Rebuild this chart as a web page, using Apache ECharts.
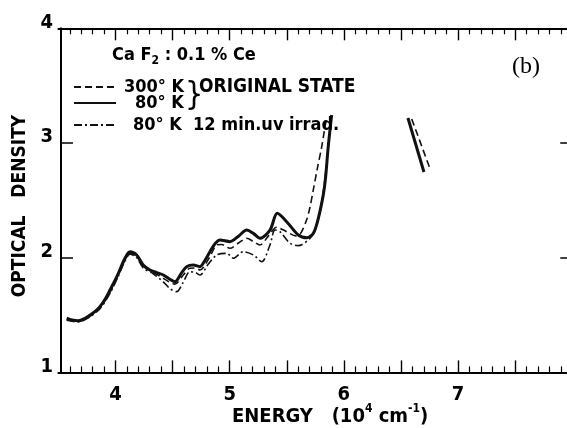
<!DOCTYPE html>
<html><head><meta charset="utf-8">
<script src="https://cdn.jsdelivr.net/npm/echarts@6/dist/echarts.min.js"></script>
<style>html,body{margin:0;padding:0;background:#fff}#c{width:567px;height:428px}</style>
</head><body><div id="c"></div>
<script>
const FONT = "'Liberation Sans Narrow','DejaVu Sans Condensed','Liberation Sans',sans-serif";

// tick labels and tick positions
const xTickLabels = [4, 5, 6, 7, 8];
const xMajorTicks = [4, 4.5, 5, 5.5, 6, 6.5, 7, 7.5, 8];
const yTickLabels = [1, 2, 3, 4];

// 80 K original state (solid)
const energy80 = [3.573,3.62,3.674,3.73,3.777,3.82,3.864,3.91,3.952,3.99,4.025,4.083,4.127,4.186,4.243,4.302,4.36,4.419,4.48,4.52,4.58,4.623,4.681,4.74,4.78,4.827,4.87,4.915,5.002,5.08,5.149,5.21,5.265,5.353,5.417,5.499,5.601,5.675,5.733,5.776,5.82,5.84,5.863,5.893];
const od80     = [1.474,1.458,1.451,1.47,1.5,1.53,1.573,1.64,1.718,1.79,1.864,1.995,2.052,2.024,1.936,1.893,1.87,1.849,1.81,1.791,1.87,1.922,1.936,1.922,1.97,2.052,2.12,2.155,2.14,2.19,2.241,2.21,2.169,2.241,2.387,2.314,2.198,2.174,2.213,2.343,2.55,2.70,2.968,3.244];
// 300 K original state (dashed)
const energy300 = [3.573,3.674,3.777,3.864,3.952,4.025,4.083,4.127,4.186,4.243,4.331,4.419,4.477,4.52,4.594,4.652,4.70,4.74,4.827,4.886,4.93,5.002,5.08,5.149,5.21,5.265,5.34,5.412,5.499,5.58,5.62,5.674,5.703,5.732,5.77,5.806,5.849];
const od300     = [1.46,1.445,1.49,1.56,1.70,1.85,1.98,2.04,2.01,1.925,1.875,1.82,1.785,1.77,1.849,1.908,1.91,1.893,2.009,2.111,2.115,2.082,2.13,2.169,2.14,2.111,2.19,2.265,2.227,2.19,2.21,2.33,2.44,2.59,2.79,2.968,3.23];
// 80 K after 12 min uv irradiation (dash-dot)
const energyUV = [3.573,3.674,3.777,3.864,3.952,4.025,4.083,4.127,4.186,4.243,4.331,4.419,4.477,4.536,4.59,4.652,4.70,4.74,4.81,4.886,4.974,5.032,5.119,5.207,5.28,5.353,5.397,5.44,5.528,5.601,5.703,5.756,5.80,5.83,5.863,5.89];
const odUV     = [1.455,1.44,1.485,1.555,1.69,1.84,1.97,2.03,2.0,1.91,1.86,1.79,1.73,1.704,1.78,1.878,1.87,1.849,1.94,2.024,2.038,1.995,2.052,2.024,1.965,2.111,2.241,2.227,2.126,2.105,2.169,2.26,2.45,2.65,2.96,3.22];
// high-energy fragments
const energy80Tail = [6.561, 6.701];
const od80Tail     = [3.218, 2.747];
const energy300Tail = [6.594, 6.760];
const od300Tail     = [3.21, 2.76];

const zip = (xs, ys) => xs.map((x, i) => [x, ys[i]]);

const chart = echarts.init(document.getElementById('c'), null, {renderer: 'canvas'});

const txt = {color: '#000', fontFamily: FONT, fontWeight: 'bold', fontSize: 20};
const lineSolid = {color: '#111', width: 3, type: 'solid'};
const lineDash = {color: '#111', width: 1.6, type: [7, 4]};
const lineDashDot = {color: '#111', width: 1.6, type: [8, 3, 2, 3]};

const X_MIN = 3.5, X_MAX = 8, UNIT = 114.2, LEFT_EDGE = 3.523;

function xAx(pos, showLabel) {
  return {
    type: 'value', position: pos, min: X_MIN, max: X_MAX, interval: 0.5,
    axisLine: {show: true, onZero: false, lineStyle: {color: '#000', width: 2}},
    axisTick: {show: true, inside: true, length: 12, customValues: xMajorTicks, lineStyle: {color: '#000', width: 1.4}},
    minorTick: {show: true, splitNumber: 5, length: 6, lineStyle: {color: '#000', width: 1.2}},
    splitLine: {show: false}, minorSplitLine: {show: false},
    axisLabel: Object.assign({show: showLabel, margin: 12, customValues: xTickLabels,
      formatter: v => String(Math.round(v))}, txt)
  };
}
function yAx(pos, showLabel, offset) {
  return {
    type: 'value', position: pos, min: 1, max: 4, interval: 1, offset: offset,
    axisLine: {show: true, onZero: false, lineStyle: {color: '#000', width: 2}},
    axisTick: {show: true, inside: true, length: 12, lineStyle: {color: '#000', width: 1.5}},
    splitLine: {show: false},
    axisLabel: Object.assign({show: showLabel, margin: 8, verticalAlign: 'bottom', lineHeight: 12,
      formatter: v => yTickLabels.indexOf(v) >= 0 ? String(v) : ''}, txt)
  };
}

function legendAt(name, text, top, padLeft) {
  return {
    data: [name], left: 73, top: top, padding: 0, itemWidth: 42, itemHeight: 20,
    formatter: () => text,
    selectedMode: false,
    itemStyle: {opacity: 0},
    textStyle: Object.assign({}, txt, {fontSize: 18, padding: [0, 0, 0, padLeft]})
  };
}

const gridLeft = 61 - (LEFT_EDGE - X_MIN) * UNIT;

chart.setOption({
  animation: false,
  backgroundColor: '#fff',
  grid: {left: gridLeft, top: 28.3, width: (X_MAX - X_MIN) * UNIT, height: 344.1, containLabel: false, outerBoundsMode: 'none'},
  xAxis: [xAx('bottom', true), xAx('top', false)],
  yAxis: [yAx('left', true, gridLeft - 61), yAx('right', false, 0)],
  legend: [
    legendAt('a300', '300° K', 78, 3),
    legendAt('a80', '80° K', 94, 14),
    legendAt('uv80', '80° K  12 min.uv irrad.', 116, 12)
  ],
  title: {
    left: 232, top: 403, padding: 0,
    text: '{b|ENERGY}{b|   (10}{s|4}{b| cm}{s|-1}{b|)}',
    textStyle: {rich: {
      b: {fontFamily: FONT, fontWeight: 'bold', fontSize: 20, color: '#000', lineHeight: 24, verticalAlign: 'bottom'},
      s: {fontFamily: FONT, fontWeight: 'bold', fontSize: 12, color: '#000', lineHeight: 12, verticalAlign: 'top'}
    }}
  },
  graphic: [
    {type: 'text', x: 20, y: 206, rotation: Math.PI / 2,
     style: {text: 'OPTICAL   DENSITY', fontFamily: FONT, fontWeight: 'bold', fontSize: 19, fill: '#000', align: 'center', verticalAlign: 'middle'}},
    {type: 'text', x: 112, y: 55,
     style: {text: 'Ca F{s|2} : 0.1 % Ce', fontFamily: FONT, fontWeight: 'bold', fontSize: 18, fill: '#000', verticalAlign: 'middle',
       rich: {s: {fontFamily: FONT, fontWeight: 'bold', fontSize: 12, fill: '#000', padding: [11, 0, 0, 0]}}}},
    {type: 'text', x: 185, y: 96,
     style: {text: '}', fontFamily: FONT, fontWeight: 'normal', fontSize: 32, fill: '#000', verticalAlign: 'middle'}},
    {type: 'text', x: 199, y: 87,
     style: {text: 'ORIGINAL STATE', fontFamily: FONT, fontWeight: 'bold', fontSize: 19, fill: '#000', verticalAlign: 'middle'}},
    {type: 'text', x: 526, y: 67,
     style: {text: '(b)', fontFamily: "'Liberation Serif','DejaVu Serif',serif", fontSize: 24, fill: '#000', align: 'center', verticalAlign: 'middle'}}
  ],
  series: [
    {name: 'a300', type: 'line', data: zip(energy300, od300), showSymbol: false, symbol: 'none', smooth: 0.3, lineStyle: lineDash, itemStyle: {color: '#111'}},
    {name: 'uv80', type: 'line', data: zip(energyUV, odUV), showSymbol: false, symbol: 'none', smooth: 0.3, lineStyle: lineDashDot, itemStyle: {color: '#111'}},
    {name: 'a80', type: 'line', data: zip(energy80, od80), showSymbol: false, symbol: 'none', smooth: 0.3, lineStyle: lineSolid, itemStyle: {color: '#111'}},
    {name: 'a80tail', type: 'line', data: zip(energy80Tail, od80Tail), symbol: 'none', lineStyle: lineSolid},
    {name: 'a300tail', type: 'line', data: zip(energy300Tail, od300Tail), symbol: 'none', lineStyle: lineDash}
  ]
});
</script></body></html>
